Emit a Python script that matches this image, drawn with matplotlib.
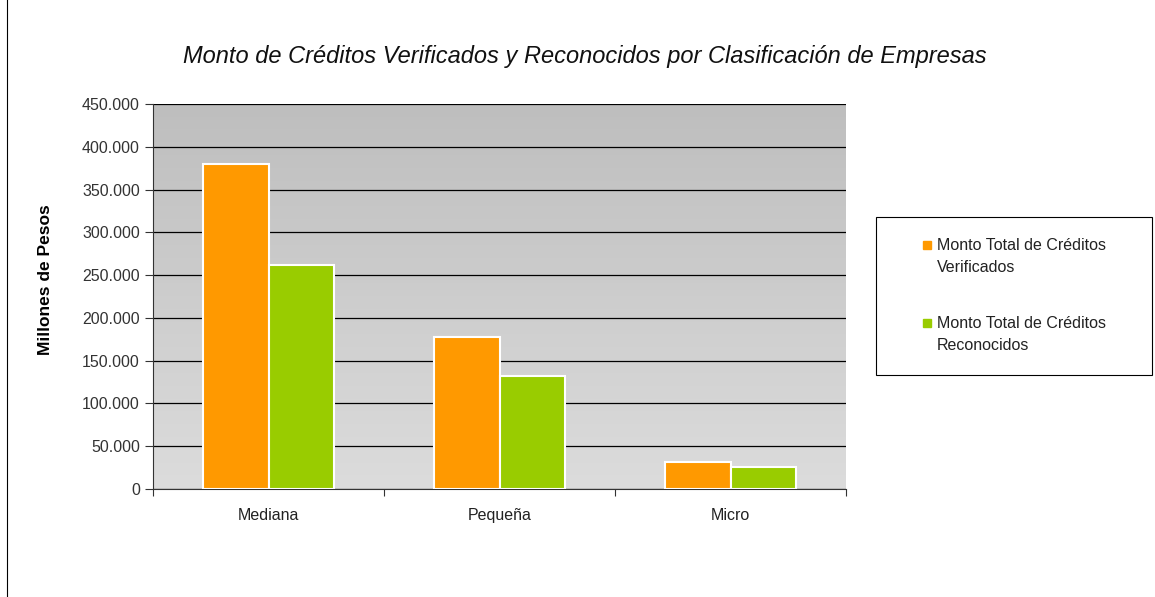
import numpy as np
import matplotlib
matplotlib.use("Agg")
from matplotlib import pyplot as plt
from matplotlib.lines import Line2D
from matplotlib.patches import Rectangle
from matplotlib.colors import LinearSegmentedColormap
from matplotlib.ticker import FuncFormatter

plt.rcParams["font.family"] = ["Liberation Sans", "DejaVu Sans"]

categories = ["Mediana", "Pequeña", "Micro"]
verificados = [380000, 177500, 32000]
reconocidos = [262000, 132000, 25500]
series_names = ["Monto Total de Créditos\nVerificados", "Monto Total de Créditos\nReconocidos"]
colors = ["#FF9900", "#99CC00"]

W, H = 1155, 597
fig = plt.figure(figsize=(W / 100, H / 100), dpi=100)
ax = fig.add_axes([153 / W, 1 - 489 / H, (846 - 153) / W, (489 - 104) / H])

# gradient background of the plot area
grad = np.linspace(0, 1, 256).reshape(-1, 1)
cmap = LinearSegmentedColormap.from_list("bg", ["#bebebe", "#dcdcdc"])
ax.imshow(grad, extent=[0, 1, 0, 1], transform=ax.transAxes, cmap=cmap,
          aspect="auto", zorder=0)

x = np.arange(len(categories))
w = 0.285
ax.bar(x - w / 2, verificados, w, color=colors[0], edgecolor="white", linewidth=1.5, zorder=3)
ax.bar(x + w / 2, reconocidos, w, color=colors[1], edgecolor="white", linewidth=1.5, zorder=3)

ax.set_xlim(-0.5, 2.5)
ax.set_ylim(0, 450000)
ax.set_yticks(np.arange(0, 450001, 50000))
ax.yaxis.set_major_formatter(FuncFormatter(lambda v, p: f"{int(v):,}".replace(",", ".")))
ax.grid(axis="y", color="black", linewidth=0.9, zorder=1)
ax.set_axisbelow(True)

ax.set_xticks([-0.5, 0.5, 1.5, 2.5])
ax.set_xticklabels([])
ax.set_xticks(x, minor=True)
ax.set_xticklabels(categories, minor=True)
ax.tick_params(axis="x", which="minor", length=0, pad=14, labelsize=11.5, labelcolor="#222222")
ax.tick_params(axis="x", which="major", length=5, color="#333333")
ax.tick_params(axis="y", length=6, labelsize=11.5, labelcolor="#333333", color="#333333")

for s in ["top", "right"]:
    ax.spines[s].set_visible(False)
ax.spines["left"].set_color("#333333")
ax.spines["bottom"].set_color("#333333")

ax.set_ylabel("Millones de Pesos", fontsize=12.5, fontweight="bold")
ax.yaxis.set_label_coords(-0.145, 0.543)

fig.text(585 / W, 1 - 57 / H,
         "Monto de Créditos Verificados y Reconocidos por Clasificación de Empresas",
         ha="center", va="center", fontsize=17, style="italic", color="#111111")

# legend box
fig.add_artist(Rectangle((876 / W, 1 - 375 / H), (1152 - 876) / W, (375 - 217) / H,
                         transform=fig.transFigure, facecolor="white",
                         edgecolor="black", linewidth=0.8))
for i, (name, c) in enumerate(zip(series_names, colors)):
    ytop = 245 + i * 78
    fig.add_artist(Line2D([927 / W], [1 - ytop / H], marker="s", markersize=6,
                          color=c, linestyle="none", transform=fig.transFigure))
    fig.text(937 / W, 1 - (ytop - 7) / H, name, ha="left", va="top",
             fontsize=11.5, color="#222222", linespacing=1.55)

# left border line
fig.add_artist(Line2D([7 / W, 7 / W], [0, 1], color="black", linewidth=0.8))

fig.savefig("out.png", dpi=100)
